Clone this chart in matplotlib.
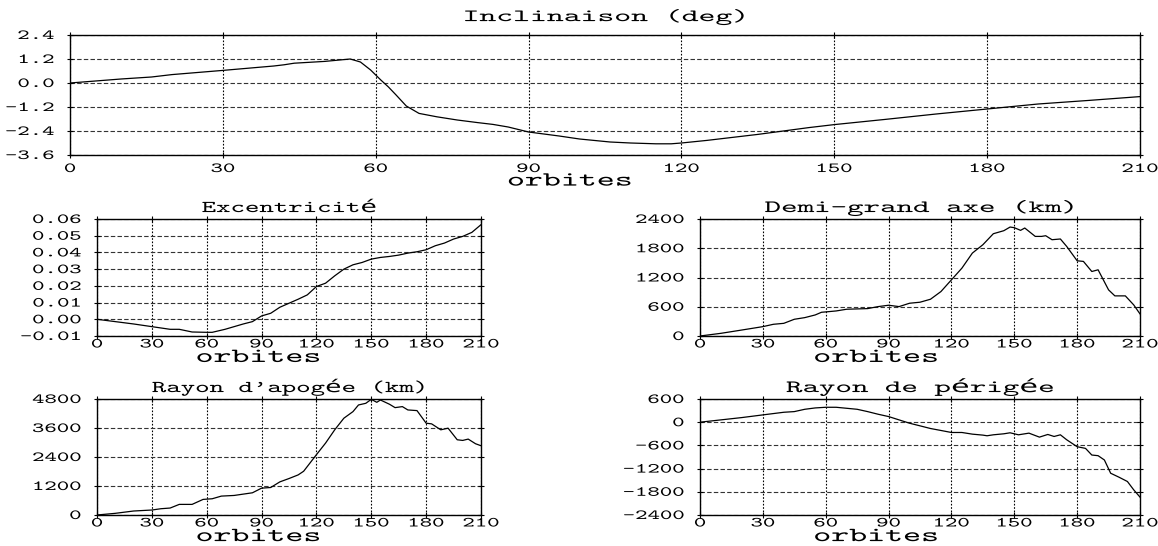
import matplotlib
matplotlib.use("Agg")
import matplotlib.pyplot as plt
from matplotlib.ticker import FormatStrFormatter
from matplotlib.patheffects import AbstractPathEffect
from matplotlib.transforms import Affine2D

plt.rcParams['font.family'] = ['cmtt10', 'DejaVu Sans Mono']
plt.rcParams['axes.unicode_minus'] = False

# inclinaison (deg)
incl_orb = [0, 10, 16, 20, 30, 40, 42, 44, 50, 55, 57, 59, 61, 62.5, 64, 66, 68.5,
            72, 76, 80, 83, 86, 90, 96, 100, 106, 110, 115, 118, 120, 125, 130, 135,
            140, 145, 150, 160, 170, 180, 190, 200, 210]
incl_deg = [0.0, 0.2, 0.3, 0.42, 0.63, 0.85, 0.91, 0.99, 1.08, 1.2, 1.05, 0.65, 0.15,
            -0.2, -0.6, -1.15, -1.52, -1.69, -1.85, -1.98, -2.07, -2.2, -2.45, -2.65,
            -2.8, -2.95, -3.0, -3.04, -3.04, -3.0, -2.87, -2.72, -2.57, -2.4, -2.23,
            -2.08, -1.82, -1.55, -1.3, -1.05, -0.87, -0.68]

# excentricite
exc_orb = [0, 10, 20, 30, 40, 45, 52, 60, 63, 70, 80, 85, 90, 95, 100, 105, 110,
           115, 120, 125, 130, 135, 140, 145, 150, 155, 160, 165, 170, 175, 180, 185,
           190, 195, 200, 205, 210]
exc_val = [0.0, -0.0014, -0.0028, -0.0044, -0.006, -0.006, -0.0076, -0.0078,
           -0.0078, -0.006, -0.0028, -0.0014, 0.002, 0.0036, 0.0072, 0.0096, 0.012,
           0.0146, 0.0196, 0.0216, 0.026, 0.030, 0.0326, 0.034, 0.036, 0.037, 0.0376,
           0.0384, 0.0396, 0.0404, 0.0416, 0.044, 0.0456, 0.048, 0.0496, 0.052, 0.0566]

# demi-grand axe (km)
sma_orb = [0, 10, 20, 30, 35, 40, 45, 50, 55, 58, 60, 65, 70, 80, 85, 90, 95, 100,
           105, 110, 115, 120, 125, 130, 135, 140, 145, 148, 150, 153, 155, 160, 163,
           165, 168, 172, 175, 180, 183, 187, 190, 195, 198, 203, 207, 210]
sma_km = [0, 55, 123, 192, 240, 260, 343, 377, 432, 487, 494, 514, 549, 562, 603,
          631, 603, 672, 693, 754, 912, 1152, 1392, 1701, 1872, 2098, 2160, 2235,
          2222, 2167, 2215, 2043, 2043, 2057, 1975, 1990, 1838, 1543, 1530, 1323,
          1358, 946, 823, 823, 638, 453]

# rayon d'apogee (km)
apo_orb = [0, 10, 20, 30, 35, 40, 45, 52, 58, 63, 68, 75, 80, 85, 90, 95, 100, 105,
           110, 113, 120, 125, 130, 135, 140, 143, 147, 150, 153, 155, 160, 163, 167,
           170, 175, 180, 183, 188, 192, 197, 200, 203, 207, 210]
apo_km = [0, 69, 165, 206, 260, 288, 439, 439, 645, 672, 782, 809, 864, 919, 1111,
          1138, 1371, 1509, 1659, 1810, 2496, 2976, 3525, 4005, 4279, 4553, 4622,
          4786, 4663, 4759, 4581, 4443, 4485, 4347, 4320, 3799, 3771, 3525, 3593,
          3113, 3086, 3141, 2949, 2866]

# rayon de perigee (km)
per_orb = [0, 10, 20, 30, 40, 45, 50, 55, 60, 65, 70, 75, 80, 85, 90, 95, 100, 105,
           110, 115, 120, 125, 130, 135, 137, 140, 145, 148, 152, 157, 162, 166, 169,
           172, 175, 180, 184, 187, 190, 193, 196, 200, 204, 207, 210]
per_km = [0, 60, 120, 189, 257, 274, 334, 369, 386, 386, 360, 334, 274, 206, 146,
          60, -26, -94, -163, -214, -266, -266, -309, -334, -351, -326, -300, -274,
          -326, -283, -386, -317, -369, -326, -454, -634, -677, -849, -866, -977,
          -1320, -1423, -1534, -1749, -1937]

xticks = [0, 30, 60, 90, 120, 150, 180, 210]

W, H = 1158, 546
SX = 1.7   # horizontal widening of the lettering


class Widen(AbstractPathEffect):
    """Draw text glyphs stretched horizontally about its centre or right side."""

    def __init__(self, sx=SX, anchor='center'):
        super().__init__()
        self.sx = sx
        self.anchor = anchor

    def draw_path(self, renderer, gc, tpath, affine, rgbFace=None):
        ext = tpath.get_extents(affine)
        cx = ext.x1 if self.anchor == 'right' else 0.5 * (ext.x0 + ext.x1)
        affine = affine + Affine2D().translate(-cx, 0).scale(self.sx, 1).translate(cx, 0)
        renderer.draw_path(gc, tpath, affine, rgbFace)


fig = plt.figure(figsize=(W / 100, H / 100), dpi=100)


def box(x0, y0, x1, y1):
    # pixel box (top-left origin) -> figure fraction rect
    return [x0 / W, 1 - y1 / H, (x1 - x0) / W, (y1 - y0) / H]


def panel(rect, x, y, title, yticks, fmt, lab_x, lab_y, title_pad=5, xpad=0,
          title_fs=12, title_sx=SX):
    ax = fig.add_axes(rect)
    ax.plot(x, y, color='black', linewidth=0.9)
    ax.set_xlim(0, 210)
    ax.set_ylim(yticks[0], yticks[-1])
    ax.set_xticks(xticks)
    ax.set_yticks(yticks)
    ax.yaxis.set_major_formatter(FormatStrFormatter(fmt))
    ax.tick_params(direction='inout', length=5, width=0.8, top=True, right=True,
                   labelsize=10, colors='black')
    ax.tick_params(axis='x', pad=xpad)
    ax.tick_params(axis='y', pad=9)
    ax.grid(axis='y', linestyle=(0, (4, 2)), color='#333333', linewidth=0.8)
    ax.grid(axis='x', linestyle=(0, (1.5, 1.5)), color='black', linewidth=0.8)
    for s in ax.spines.values():
        s.set_linewidth(1.0)
        s.set_color('black')
    ax.spines['top'].set_linestyle((0, (3, 1)))
    t = ax.set_title(title, fontsize=title_fs, pad=title_pad)
    t.set_path_effects([Widen(title_sx)])
    ax.set_xlabel('orbites', fontsize=14.5, va='baseline')
    ax.xaxis.set_label_coords(lab_x, lab_y)
    ax.xaxis.label.set_path_effects([Widen()])
    for lbl in ax.get_xticklabels():
        lbl.set_path_effects([Widen()])
    for lbl in ax.get_yticklabels():
        lbl.set_path_effects([Widen(anchor='right')])
    return ax


top = panel(box(70, 35, 1140, 155), incl_orb, incl_deg, 'Inclinaison (deg)',
            [-3.6, -2.4, -1.2, 0.0, 1.2, 2.4], '%.1f', 0.467, -0.255,
            title_pad=10, xpad=4, title_fs=12.5, title_sx=1.85)

ecc = panel(box(97, 219, 481, 336), exc_orb, exc_val, 'Excentricité',
            [-0.01, 0.0, 0.01, 0.02, 0.03, 0.04, 0.05, 0.06], '%.2f', 0.42, -0.222,
            title_sx=1.65)

sma = panel(box(700, 219, 1140, 336), sma_orb, sma_km, 'Demi-grand axe (km)',
            [0, 600, 1200, 1800, 2400], '%d', 0.40, -0.222,
            title_fs=12.5, title_sx=1.81)

apo = panel(box(97, 399, 481, 515), apo_orb, apo_km, "Rayon d'apogée (km)",
            [0, 1200, 2400, 3600, 4800], '%d', 0.42, -0.225, title_sx=1.65)

per = panel(box(700, 399, 1140, 515), per_orb, per_km, 'Rayon de périgée',
            [-2400, -1800, -1200, -600, 0, 600], '%d', 0.40, -0.225,
            title_fs=12.5, title_sx=1.81)

fig.savefig('out.png', dpi=100, facecolor='white')
